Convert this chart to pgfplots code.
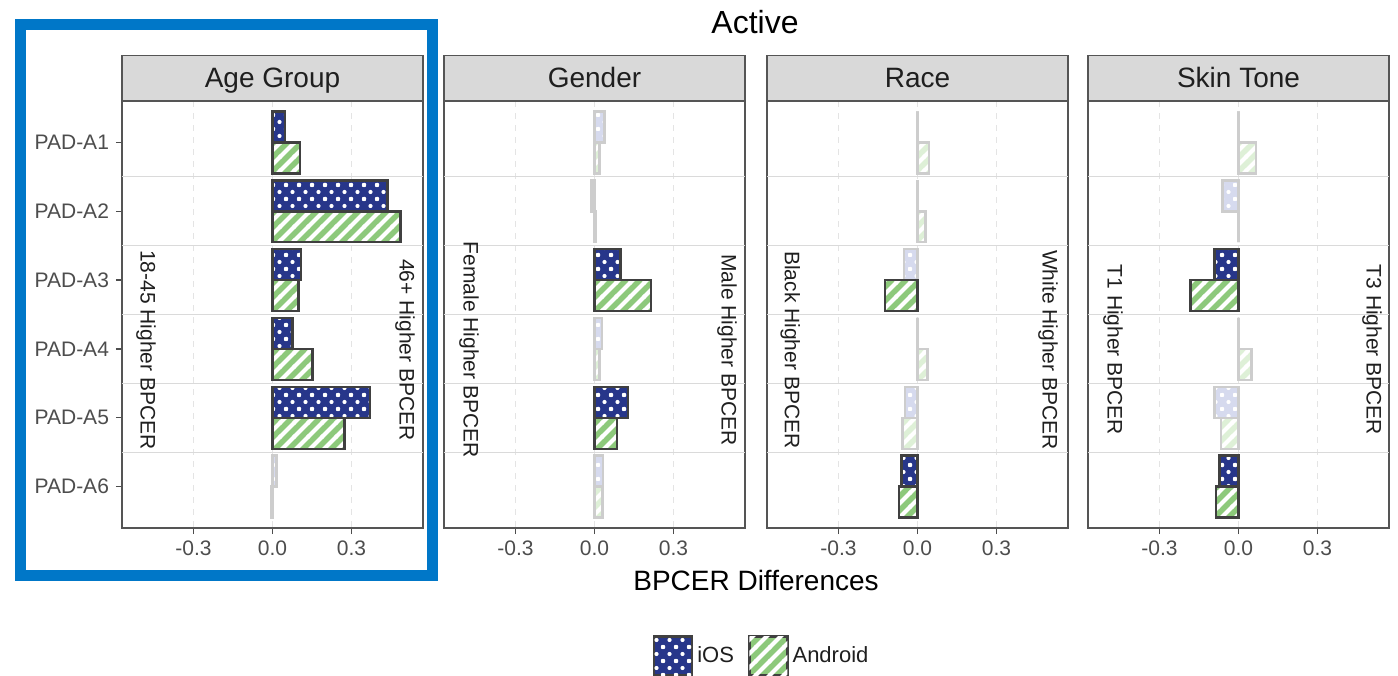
\documentclass[border=0pt]{standalone}
\usepackage{pgfplots}
\pgfplotsset{compat=1.18}
\usepackage{fontspec}
\setmainfont{Liberation Sans}
\usetikzlibrary{patterns}

\definecolor{iosblue}{RGB}{39,54,138}
\definecolor{andgreen}{RGB}{141,201,123}
\definecolor{iosfade}{RGB}{214,218,238}
\definecolor{andfade}{RGB}{222,240,215}
\definecolor{fadeline}{RGB}{205,205,205}
\definecolor{bardark}{RGB}{64,64,64}
\definecolor{stripgray}{RGB}{217,217,217}
\definecolor{bordergray}{RGB}{85,85,85}
\definecolor{sepgray}{RGB}{218,218,218}
\definecolor{gridgray}{RGB}{228,228,228}
\definecolor{tickgray}{RGB}{77,77,77}
\definecolor{boxblue}{RGB}{0,119,200}

\pgfdeclarepatternformonly{wdots}{\pgfqpoint{-1.5pt}{-1.5pt}}{\pgfqpoint{8pt}{8.5pt}}{\pgfqpoint{6.5pt}{7pt}}{%
  \pgfpathcircle{\pgfqpoint{0pt}{0pt}}{1.05pt}%
  \pgfpathcircle{\pgfqpoint{3.25pt}{3.5pt}}{1.05pt}%
  \pgfpathcircle{\pgfqpoint{6.5pt}{0pt}}{1.05pt}%
  \pgfpathcircle{\pgfqpoint{0pt}{7pt}}{1.05pt}%
  \pgfpathcircle{\pgfqpoint{6.5pt}{7pt}}{1.05pt}%
  \pgfusepath{fill}}
\pgfdeclarepatternformonly{wstripes}{\pgfqpoint{-1pt}{-1pt}}{\pgfqpoint{8pt}{8pt}}{\pgfqpoint{7pt}{7pt}}{%
  \pgfsetlinewidth{2pt}%
  \pgfpathmoveto{\pgfqpoint{-1pt}{-1pt}}\pgfpathlineto{\pgfqpoint{8pt}{8pt}}%
  \pgfusepath{stroke}}

\pgfplotsset{
  panel/.style={
    scale only axis, width=150.5pt, height=213.5pt,
    anchor=south west,
    xmin=-0.572, xmax=0.572, ymin=0.4, ymax=6.6, y dir=reverse,
    xtick={-0.3,0,0.3}, xticklabels={{-0.3},{0.0},{0.3}},
    xmajorgrids, major grid style={dashed, gridgray, line width=0.5pt},
    extra y ticks={1.5,2.5,3.5,4.5,5.5}, extra y tick labels={},
    extra y tick style={grid=major, major grid style={solid, sepgray, line width=0.6pt}, major tick length=0pt},
    tick align=outside, major tick length=3pt,
    xtick pos=bottom, ytick pos=left,
    tick style={tickgray, line width=0.6pt},
    axis line style={draw=bordergray, line width=0.6pt},
    ticklabel style={font=\fontsize{10.5}{12}\selectfont, text=tickgray},
    every axis title shift=0pt,
    title style={at={(0.5,1)}, anchor=south, yshift=0pt, fill=stripgray, draw=bordergray, line width=0.6pt,
      minimum width=150.5pt, minimum height=22.5pt, text height=11.5pt, text depth=1.5pt, inner sep=0pt,
      font=\fontsize{14}{16}\selectfont, text=black!88},
    legend image code/.code={\path[##1, draw=none] (0pt,-10pt) rectangle (19pt,9.5pt);},
  },
  iossig/.style={xbar, bar width=0.45, bar shift=-0.225, preaction={fill=iosblue}, pattern=wdots, pattern color=white, draw=bardark, line width=1.3pt},
  iosfad/.style={xbar, bar width=0.45, bar shift=-0.225, preaction={fill=iosfade}, pattern=wdots, pattern color=white, draw=fadeline, line width=1.3pt, forget plot},
  andsig/.style={xbar, bar width=0.45, bar shift=0.225, preaction={fill=andgreen}, pattern=wstripes, pattern color=white, draw=bardark, line width=1.3pt},
  andfad/.style={xbar, bar width=0.45, bar shift=0.225, preaction={fill=andfade}, pattern=wstripes, pattern color=white, draw=fadeline, line width=1.3pt, forget plot},
}

\begin{document}
\begin{tikzpicture}
\useasboundingbox (0,0) rectangle (699pt,337.5pt);
\fill[white] (0,0) rectangle (699pt,337.5pt);

% Panel 1: Age Group
\begin{axis}[panel, at={(61pt,73.5pt)}, title={Age Group},
  ytick={1,2,3,4,5,6}, yticklabels={PAD-A1,PAD-A2,PAD-A3,PAD-A4,PAD-A5,PAD-A6},
  legend style={at={(2.128,-0.30)}, anchor=center, draw=none, fill=none, legend columns=2,
    font=\fontsize{11}{13}\selectfont, text=black!88,
    /tikz/every even column/.append style={column sep=5pt}},
  legend cell align=left]
\addplot[iossig] coordinates {(0.048,1) (0.437,2) (0.108,3) (0.076,4) (0.371,5)};
\addlegendentry{iOS}
\addplot[andsig] coordinates {(0.105,1) (0.487,2) (0.099,3) (0.152,4) (0.273,5)};
\addlegendentry{Android}
\addplot[iosfad] coordinates {(0.015,6)};
\addplot[andfad] coordinates {(-0.006,6)};
\node[rotate=-90, font=\fontsize{10.5}{12}\selectfont, text=black!88] at (rel axis cs:0.08,0.417) {18-45 Higher BPCER};
\node[rotate=-90, font=\fontsize{10.5}{12}\selectfont, text=black!88] at (rel axis cs:0.94,0.417) {46+ Higher BPCER};
\end{axis}

% Panel 2: Gender
\begin{axis}[panel, at={(222pt,73.5pt)}, title={Gender}, ytick=\empty]
\addplot[iosfad] coordinates {(0.037,1) (-0.012,2) (0.029,4) (0.033,6)};
\addplot[andfad] coordinates {(0.019,1) (0.006,2) (0.019,4) (0.030,6)};
\addplot[iossig] coordinates {(0.099,3) (0.128,5)};
\addplot[andsig] coordinates {(0.215,3) (0.086,5)};
\node[rotate=-90, font=\fontsize{10.5}{12}\selectfont, text=black!88] at (rel axis cs:0.083,0.417) {Female Higher BPCER};
\node[rotate=-90, font=\fontsize{10.5}{12}\selectfont, text=black!88] at (rel axis cs:0.94,0.417) {Male Higher BPCER};
\end{axis}

% Panel 3: Race
\begin{axis}[panel, at={(383.5pt,73.5pt)}, title={Race}, ytick=\empty]
\addplot[iosfad] coordinates {(0,1) (0,2) (-0.051,3) (0,4) (-0.047,5)};
\addplot[andfad] coordinates {(0.044,1) (0.030,2) (0.038,4) (-0.056,5)};
\addplot[iossig] coordinates {(-0.062,6)};
\addplot[andsig] coordinates {(-0.123,3) (-0.071,6)};
\node[rotate=-90, font=\fontsize{10.5}{12}\selectfont, text=black!88] at (rel axis cs:0.077,0.417) {Black Higher BPCER};
\node[rotate=-90, font=\fontsize{10.5}{12}\selectfont, text=black!88] at (rel axis cs:0.934,0.417) {White Higher BPCER};
\end{axis}

% Panel 4: Skin Tone
\begin{axis}[panel, at={(544pt,73.5pt)}, title={Skin Tone}, ytick=\empty]
\addplot[iosfad] coordinates {(0,1) (-0.061,2) (0,4) (-0.091,5)};
\addplot[andfad] coordinates {(0.067,1) (0,2) (0.050,4) (-0.066,5)};
\addplot[iossig] coordinates {(-0.091,3) (-0.073,6)};
\addplot[andsig] coordinates {(-0.182,3) (-0.086,6)};
\node[rotate=-90, font=\fontsize{10.5}{12}\selectfont, text=black!88] at (rel axis cs:0.083,0.417) {T1 Higher BPCER};
\node[rotate=-90, font=\fontsize{10.5}{12}\selectfont, text=black!88] at (rel axis cs:0.944,0.417) {T3 Higher BPCER};
\end{axis}

\node[font=\fontsize{16}{19}\selectfont, text=black] at (377.5pt,326.5pt) {Active};
\node[font=\fontsize{14}{17}\selectfont, text=black] at (378pt,47.5pt) {BPCER Differences};
\draw[boxblue, line width=5.5pt] (10pt,325pt) rectangle (216.25pt,49.5pt);
\end{tikzpicture}
\end{document}
